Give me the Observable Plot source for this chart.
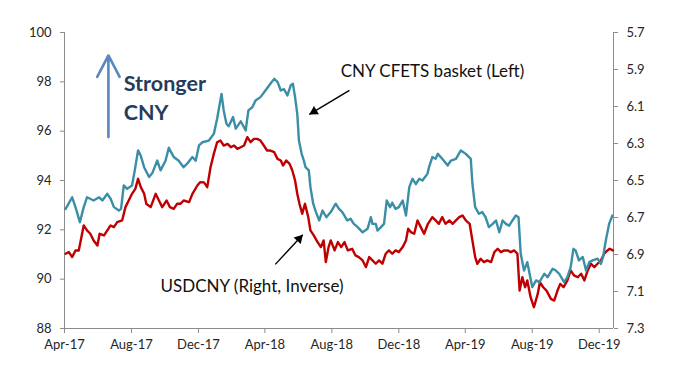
<!DOCTYPE html>
<html>
<head>
<meta charset="utf-8">
<script src="https://cdn.jsdelivr.net/npm/d3@7"></script>
<script src="https://cdn.jsdelivr.net/npm/@observablehq/plot@0.6"></script>
<style>
  html, body { margin: 0; padding: 0; background: #fff; }
  #chart svg { display: block; }
</style>
</head>
<body>
<div id="chart"></div>
<script>
// CNY CFETS basket (left axis)
const cfetsDates = ["2017-04-03","2017-04-15","2017-04-21","2017-04-29","2017-05-06","2017-05-12","2017-05-24","2017-06-03","2017-06-09","2017-06-18","2017-06-24","2017-06-30","2017-07-09","2017-07-13","2017-07-18","2017-07-24","2017-08-02","2017-08-07","2017-08-13","2017-08-18","2017-08-24","2017-09-02","2017-09-08","2017-09-17","2017-09-23","2017-10-02","2017-10-08","2017-10-17","2017-10-26","2017-11-04","2017-11-11","2017-11-20","2017-11-26","2017-12-02","2017-12-08","2017-12-20","2017-12-29","2018-01-04","2018-01-12","2018-01-16","2018-01-21","2018-01-25","2018-02-02","2018-02-07","2018-02-16","2018-02-25","2018-03-02","2018-03-09","2018-03-15","2018-03-24","2018-04-02","2018-04-11","2018-04-18","2018-04-24","2018-04-30","2018-05-06","2018-05-12","2018-05-18","2018-05-22","2018-05-26","2018-05-30","2018-06-02","2018-06-07","2018-06-11","2018-06-14","2018-06-20","2018-06-23","2018-06-28","2018-07-03","2018-07-09","2018-07-15","2018-07-22","2018-07-30","2018-08-08","2018-08-14","2018-08-20","2018-08-29","2018-09-04","2018-09-10","2018-09-17","2018-09-26","2018-10-05","2018-10-11","2018-10-14","2018-10-20","2018-10-23","2018-10-29","2018-11-04","2018-11-09","2018-11-15","2018-11-19","2018-11-25","2018-12-01","2018-12-08","2018-12-14","2018-12-20","2018-12-26","2019-01-01","2019-01-07","2019-01-13","2019-01-22","2019-01-25","2019-01-31","2019-02-06","2019-02-10","2019-02-18","2019-02-28","2019-03-06","2019-03-15","2019-03-24","2019-04-02","2019-04-11","2019-04-14","2019-04-19","2019-04-26","2019-05-02","2019-05-08","2019-05-14","2019-05-21","2019-05-27","2019-06-02","2019-06-08","2019-06-14","2019-06-20","2019-06-26","2019-07-02","2019-07-07","2019-07-11","2019-07-17","2019-07-23","2019-08-01","2019-08-08","2019-08-14","2019-08-23","2019-08-29","2019-09-07","2019-09-13","2019-09-19","2019-09-28","2019-10-04","2019-10-10","2019-10-15","2019-10-19","2019-10-25","2019-11-01","2019-11-07","2019-11-13","2019-11-19","2019-11-28","2019-12-04","2019-12-08","2019-12-13","2019-12-19","2019-12-25"];
const cfetsValues = [92.85,93.32,92.92,92.31,92.92,93.32,93.19,93.32,93.19,93.46,93.26,92.92,92.78,92.85,93.80,93.66,93.80,94.41,95.22,95.00,94.54,94.14,94.30,94.81,94.41,94.80,95.33,94.95,94.80,94.54,94.70,94.95,94.80,95.42,95.55,95.62,95.89,96.50,97.51,96.84,96.30,96.20,96.57,96.10,96.40,96.03,96.84,96.97,97.24,97.38,97.65,97.92,98.12,98.00,97.65,97.70,97.45,97.85,97.92,97.38,96.70,95.62,95.08,94.81,94.54,94.41,93.73,93.06,92.72,92.38,92.78,92.51,92.72,93.06,92.85,92.72,92.38,92.45,92.24,92.11,91.90,92.04,92.51,92.24,92.24,91.97,92.10,92.24,93.19,92.92,93.10,92.85,92.92,93.19,92.58,93.73,94.07,93.85,94.07,94.00,94.27,94.54,94.95,94.88,95.08,94.88,94.61,94.81,94.88,95.22,95.08,94.88,93.87,92.92,92.65,92.72,92.51,92.11,92.24,92.38,91.90,92.38,92.24,92.17,92.38,92.58,92.51,91.03,90.35,90.69,89.68,89.95,89.88,90.22,90.08,90.42,90.35,90.22,89.88,90.08,90.49,91.23,91.16,90.76,90.90,90.35,90.69,90.76,90.83,90.62,90.90,91.57,92.24,92.58];

// USDCNY (right axis, inverse)
const usdDates = ["2017-04-03","2017-04-09","2017-04-15","2017-04-21","2017-04-27","2017-05-06","2017-05-12","2017-05-18","2017-05-24","2017-05-31","2017-06-04","2017-06-12","2017-06-18","2017-06-24","2017-06-30","2017-07-06","2017-07-15","2017-07-21","2017-07-27","2017-08-02","2017-08-08","2017-08-13","2017-08-18","2017-08-24","2017-08-28","2017-09-05","2017-09-14","2017-09-20","2017-09-26","2017-10-04","2017-10-10","2017-10-17","2017-10-23","2017-10-29","2017-11-04","2017-11-14","2017-11-20","2017-11-29","2017-12-04","2017-12-11","2017-12-17","2017-12-23","2017-12-29","2018-01-04","2018-01-10","2018-01-16","2018-01-23","2018-01-29","2018-02-04","2018-02-10","2018-02-16","2018-02-22","2018-02-28","2018-03-06","2018-03-12","2018-03-18","2018-03-24","2018-03-30","2018-04-05","2018-04-11","2018-04-18","2018-04-24","2018-04-30","2018-05-04","2018-05-10","2018-05-16","2018-05-21","2018-05-26","2018-05-30","2018-06-03","2018-06-08","2018-06-13","2018-06-19","2018-06-23","2018-06-29","2018-07-06","2018-07-12","2018-07-17","2018-07-21","2018-07-26","2018-07-30","2018-08-06","2018-08-12","2018-08-18","2018-08-24","2018-08-30","2018-09-07","2018-09-13","2018-09-19","2018-09-26","2018-10-02","2018-10-08","2018-10-14","2018-10-20","2018-10-26","2018-11-01","2018-11-07","2018-11-13","2018-11-19","2018-11-25","2018-12-01","2018-12-08","2018-12-14","2018-12-18","2018-12-23","2018-12-29","2019-01-04","2019-01-10","2019-01-16","2019-01-23","2019-01-31","2019-02-06","2019-02-12","2019-02-18","2019-02-24","2019-03-03","2019-03-09","2019-03-15","2019-03-21","2019-03-27","2019-04-02","2019-04-09","2019-04-14","2019-04-19","2019-04-23","2019-04-29","2019-05-05","2019-05-11","2019-05-18","2019-05-24","2019-05-30","2019-06-05","2019-06-11","2019-06-17","2019-06-23","2019-06-29","2019-07-05","2019-07-09","2019-07-14","2019-07-19","2019-07-23","2019-07-29","2019-08-04","2019-08-11","2019-08-15","2019-08-21","2019-08-27","2019-09-04","2019-09-10","2019-09-16","2019-09-21","2019-09-27","2019-10-04","2019-10-10","2019-10-16","2019-10-23","2019-10-29","2019-11-04","2019-11-10","2019-11-16","2019-11-22","2019-11-28","2019-12-04","2019-12-10","2019-12-16","2019-12-20","2019-12-26"];
const usdValues = [6.896,6.887,6.914,6.878,6.878,6.743,6.770,6.788,6.824,6.851,6.788,6.797,6.770,6.743,6.752,6.725,6.716,6.644,6.608,6.572,6.545,6.491,6.536,6.570,6.626,6.644,6.572,6.608,6.644,6.608,6.644,6.653,6.626,6.626,6.608,6.617,6.572,6.527,6.509,6.510,6.536,6.428,6.356,6.293,6.284,6.311,6.302,6.320,6.311,6.329,6.320,6.311,6.266,6.293,6.275,6.275,6.284,6.311,6.338,6.338,6.347,6.383,6.392,6.419,6.392,6.410,6.446,6.500,6.572,6.626,6.680,6.626,6.698,6.770,6.797,6.833,6.860,6.824,6.941,6.860,6.824,6.878,6.833,6.860,6.833,6.878,6.869,6.905,6.914,6.932,6.968,6.914,6.932,6.950,6.932,6.950,6.896,6.878,6.896,6.878,6.887,6.860,6.824,6.761,6.779,6.788,6.716,6.752,6.788,6.734,6.698,6.716,6.734,6.698,6.734,6.716,6.734,6.716,6.698,6.689,6.716,6.734,6.824,6.914,6.950,6.923,6.941,6.932,6.941,6.887,6.869,6.887,6.878,6.878,6.887,6.878,6.896,7.095,7.023,7.077,7.040,7.131,7.185,7.113,7.050,7.077,7.095,7.140,7.149,7.095,7.059,7.077,7.040,6.986,7.013,7.023,7.004,7.040,6.986,6.950,6.968,6.950,6.932,6.896,6.878,6.869,6.878];

// Axis ticks
const leftTicks = [88, 90, 92, 94, 96, 98, 100];
const rightTicks = [5.7, 5.9, 6.1, 6.3, 6.5, 6.7, 6.9, 7.1, 7.3];
const xTickDates = ["2017-04-01","2017-08-01","2017-12-01","2018-04-01","2018-08-01","2018-12-01","2019-04-01","2019-08-01","2019-12-01"];

// Right axis (inverse) mapped onto left-axis units: 5.7 <-> 100, 7.3 <-> 88
const toLeft = r => 100 - (r - 5.7) * 7.5;
const fromLeft = l => 5.7 + (100 - l) / 7.5;

const cfets = cfetsDates.map((d, i) => ({date: new Date(d), value: cfetsValues[i]}));
const usd = usdDates.map((d, i) => ({date: new Date(d), value: toLeft(usdValues[i])}));

const xDomain = [new Date("2017-04-01"), new Date("2019-12-27")];
const gray = "#8c8c8c";
const ink = "#262626";
const fmt = d3.utcFormat("%b-%y");

// annotation pointers (data coordinates)
const ptr1 = {x1: new Date("2018-09-02"), y1: 97.65, x2: new Date("2018-06-21"), y2: 96.68};
const ptr2 = {x1: new Date("2018-04-20"), y1: 90.6, x2: new Date("2018-06-09"), y2: 91.8};

const chart = Plot.plot({
  width: 683,
  height: 365,
  marginLeft: 64,
  marginRight: 70,
  marginTop: 32,
  marginBottom: 37,
  style: {fontFamily: "Lato, 'Open Sans', sans-serif", fontSize: "13px", color: ink, background: "#fff"},
  x: {type: "utc", domain: xDomain},
  y: {domain: [88, 100]},
  marks: [
    Plot.ruleY([88], {stroke: gray}),
    Plot.ruleX(xDomain, {stroke: gray}),
    Plot.axisY(leftTicks, {anchor: "left", tickSize: 4, tickPadding: 9, stroke: gray, color: ink, tickFormat: d => String(d), label: null}),
    Plot.axisY(rightTicks.map(toLeft), {anchor: "right", tickSize: 4, tickPadding: 9, stroke: gray, color: ink, tickFormat: v => fromLeft(v).toFixed(1), label: null}),
    Plot.axisX(xTickDates.map(d => new Date(d)), {tickSize: 5, tickPadding: 6, stroke: gray, color: ink, tickFormat: fmt, label: null}),
    Plot.lineY(usd, {x: "date", y: "value", stroke: "#c00000", strokeWidth: 2.4}),
    Plot.lineY(cfets, {x: "date", y: "value", stroke: "#3a8ea6", strokeWidth: 2.4}),
    // "Stronger CNY" arrow + label
    Plot.arrow([{x1: new Date("2017-06-20"), y1: 95.76, x2: new Date("2017-06-20"), y2: 99.07}],
      {x1: "x1", y1: "y1", x2: "x2", y2: "y2", stroke: "#5a87bf", strokeWidth: 2.6, headLength: 14, headAngle: 55}),
    Plot.text([{date: new Date("2017-07-18"), value: 96.47, text: "Stronger\nCNY"}],
      {x: "date", y: "value", text: "text", textAnchor: "start", lineAnchor: "bottom", lineHeight: 1.32, fontSize: 21.5, fontWeight: "bold", fill: "#253c5c"}),
    // Series labels
    Plot.text([{date: new Date("2018-08-17"), value: 98.2, text: "CNY CFETS basket (Left)"}],
      {x: "date", y: "value", text: "text", textAnchor: "start", lineAnchor: "bottom", fontSize: 17, fill: "#111"}),
    Plot.text([{date: new Date("2017-09-23"), value: 89.47, text: "USDCNY (Right, Inverse)"}],
      {x: "date", y: "value", text: "text", textAnchor: "start", lineAnchor: "bottom", fontSize: 17, fill: "#111"}),
    // pointer shafts
    Plot.link([ptr1, ptr2], {x1: "x1", y1: "y1", x2: "x2", y2: "y2", stroke: "#000", strokeWidth: 1.4}),
    // filled triangular heads
    Plot.dot([ptr1], {x: "x2", y: "y2", symbol: "triangle", r: 3.6, fill: "#000", stroke: "none", rotate: 239, dx: 4.7, dy: -2.8}),
    Plot.dot([ptr2], {x: "x2", y: "y2", symbol: "triangle", r: 3.6, fill: "#000", stroke: "none", rotate: 42.6, dx: -3.7, dy: 4.0})
  ]
});
document.getElementById("chart").appendChild(chart);
</script>
</body>
</html>
